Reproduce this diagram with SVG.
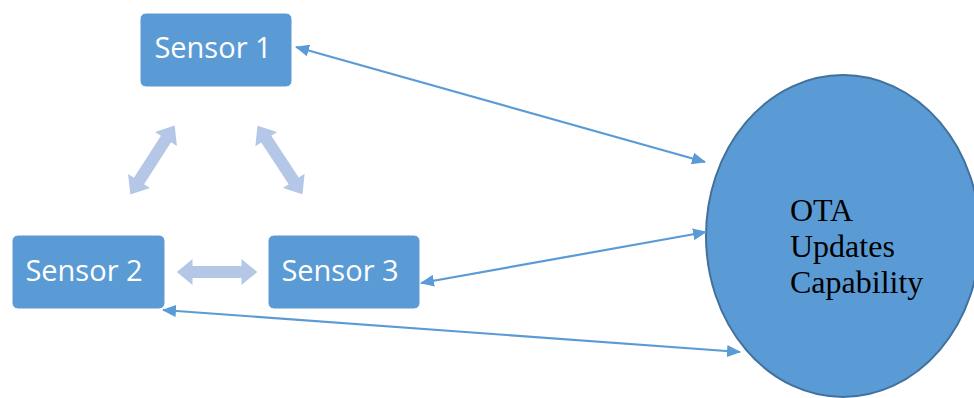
<svg xmlns="http://www.w3.org/2000/svg" width="974" height="398" viewBox="0 0 974 398">
  <style>
    .box { fill: #5B9BD5; stroke: #FFFFFF; stroke-width: 1; }
    .lbl { font-family: "Open Sans", "Noto Sans", sans-serif; font-size: 29px; fill: #FFFFFF; text-anchor: middle; }
    .ota { font-family: "Liberation Serif", "Times New Roman", serif; font-size: 32px; fill: #000000; }
    .link { stroke: #5B9BD5; stroke-width: 2.2; fill: none; marker-start: url(#head); marker-end: url(#head); }
    .block { fill: #B4C7E7; }
  </style>
  <defs>
    <marker id="head" viewBox="0 0 14 12" refX="13" refY="6" markerWidth="14" markerHeight="12" markerUnits="userSpaceOnUse" orient="auto-start-reverse">
      <path d="M0,0 L14,6 L0,12 Z" fill="#5B9BD5"/>
    </marker>
    <polygon id="dbl" points="-41,0 -25,-13 -25,-6 25,-6 25,-13 41,0 25,13 25,6 -25,6 -25,13"/>
  </defs>

  <!-- sensor-to-sensor links -->
  <g id="peer-links" class="block">
    <use href="#dbl" transform="translate(217,272) scale(0.98,1)"/>
    <use href="#dbl" transform="translate(152.5,160) rotate(-57.3)"/>
    <use href="#dbl" transform="translate(280,160) rotate(56.7)"/>
  </g>

  <g id="sensor1">
    <rect class="box" x="140" y="13" width="152" height="74" rx="6"/>
    <text class="lbl" x="213" y="58">Sensor 1</text>
  </g>
  <g id="sensor2">
    <rect class="box" x="12" y="235" width="153" height="74" rx="6"/>
    <text class="lbl" x="84" y="281">Sensor 2</text>
  </g>
  <g id="sensor3">
    <rect class="box" x="268" y="235" width="152" height="74" rx="6"/>
    <text class="lbl" x="340" y="281">Sensor 3</text>
  </g>

  <g id="ota">
    <ellipse cx="843" cy="236" rx="137" ry="161" fill="#5B9BD5" stroke="#41719C" stroke-width="2"/>
    <text class="ota" x="790" y="221">OTA</text>
    <text class="ota" x="790" y="257">Updates</text>
    <text class="ota" x="790" y="293">Capability</text>
  </g>

  <!-- update channels -->
  <g id="connectors">
    <line class="link" x1="296" y1="47" x2="705" y2="162"/>
    <line class="link" x1="421" y1="283" x2="706" y2="232"/>
    <line class="link" x1="163" y1="310" x2="740" y2="352"/>
  </g>
</svg>
